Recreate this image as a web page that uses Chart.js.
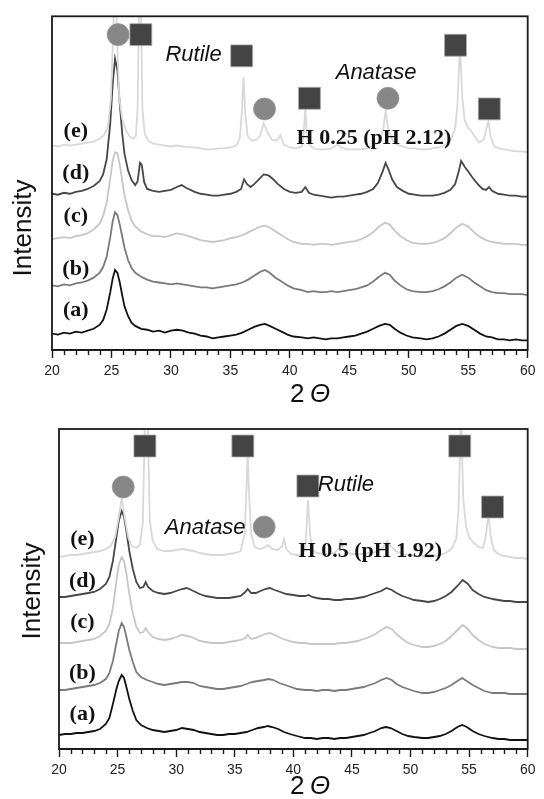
<!DOCTYPE html>
<html><head><meta charset="utf-8">
<script src="https://cdn.jsdelivr.net/npm/chart.js@4.4.0/dist/chart.umd.min.js"></script>
<style>
html,body{margin:0;padding:0;background:#fff;width:544px;height:799px;overflow:hidden;}
#c1{position:absolute;left:0;top:0;}
#c2{position:absolute;left:0;top:400px;}
</style></head><body>
<canvas id="c1" width="544" height="420"></canvas>
<canvas id="c2" width="544" height="399"></canvas>
<script>
// ---------- DATA (2θ in degrees, intensity in arbitrary stacked units) ----------
const xTickLabels = [20,25,30,35,40,45,50,55,60];
const minorTicks = [21,22,23,24,26,27,28,29,31,32,33,34,36,37,38,39,41,42,43,44,46,47,48,49,51,52,53,54,56,57,58,59];
const sampleLetters = ['(a)','(b)','(c)','(d)','(e)'];
const letterX = 22.0;

// Top panel: H 0.25 (pH 2.12)
const topA = [[20,17],[20.5,16],[21,18],[21.5,17],[22,19],[22.5,18],[23,20],[23.5,22],[24,26],[24.3,31],[24.6,42],[24.9,60],[25.1,74],[25.3,83],[25.5,80],[25.7,70],[25.9,57],[26.1,45],[26.4,35],[26.7,28],[27,25],[27.5,22],[28,21],[28.5,19],[29,20],[29.5,18],[30,20],[30.5,21],[31,20],[31.5,18],[32,17],[32.5,15],[33,14],[33.5,12],[34,13],[34.5,14],[35,15],[35.5,16],[36,18],[36.5,21],[37,24],[37.5,26],[37.9,27],[38.3,25],[38.8,22],[39.3,19],[39.8,16],[40.3,14],[41,13],[41.5,12],[42,13],[42.5,12],[43,11],[43.5,12],[44,12],[44.5,13],[45,14],[45.5,15],[46,17],[46.5,19],[47,22],[47.5,25],[48,27],[48.4,26],[48.8,22],[49.3,18],[49.8,15],[50.3,13],[51,12],[51.5,11],[52,12],[52.5,14],[53,17],[53.5,21],[54,25],[54.5,27],[55,25],[55.5,21],[56,17],[56.5,14],[57,13],[57.5,11],[58,11],[58.5,10],[59,11],[59.5,10],[60,10]];
const topB = [[20,67],[20.5,66],[21,68],[21.5,67],[22,69],[22.5,70],[23,72],[23.5,75],[24,80],[24.3,86],[24.6,97],[24.9,117],[25.1,133],[25.3,143],[25.5,140],[25.7,130],[25.9,118],[26.1,106],[26.4,93],[26.7,85],[27,80],[27.5,76],[28,73],[28.5,71],[29,70],[29.5,69],[30,68],[30.5,69],[31,68],[31.5,67],[32,66],[32.5,65],[33,65],[33.5,64],[34,65],[34.5,66],[35,67],[35.5,68],[36,70],[36.5,73],[37,77],[37.5,81],[37.9,83],[38.3,80],[38.8,75],[39.3,71],[39.8,67],[40.3,64],[41,62],[41.5,60],[42,61],[42.5,60],[43,60],[43.5,61],[44,60],[44.5,61],[45,62],[45.5,63],[46,65],[46.5,67],[47,71],[47.5,76],[48,80],[48.4,78],[48.8,72],[49.3,67],[49.8,63],[50.3,61],[51,60],[51.5,60],[52,61],[52.5,63],[53,66],[53.5,70],[54,75],[54.5,78],[55,75],[55.5,70],[56,66],[56.5,62],[57,60],[57.5,59],[58,59],[58.5,58],[59,58],[59.5,58],[60,57]];
const topC = [[20,115],[20.5,116],[21,117],[21.5,116],[22,118],[22.5,119],[23,121],[23.5,125],[24,131],[24.3,139],[24.6,153],[24.9,178],[25.1,196],[25.3,205],[25.5,204],[25.7,192],[25.9,176],[26.1,160],[26.4,145],[26.7,134],[27,128],[27.5,123],[28,120],[28.5,118],[29,118],[29.5,117],[30,119],[30.5,121],[31,120],[31.5,118],[32,116],[32.5,114],[33,113],[33.5,112],[34,113],[34.5,114],[35,116],[35.5,117],[36,119],[36.5,122],[37,125],[37.5,128],[37.9,129],[38.3,127],[38.8,123],[39.3,119],[39.8,115],[40.3,112],[41,110],[41.5,110],[42,109],[42.5,110],[43,110],[43.5,109],[44,110],[44.5,111],[45,112],[45.5,113],[46,115],[46.5,118],[47,122],[47.5,128],[48,132],[48.4,130],[48.8,124],[49.3,118],[49.8,114],[50.3,111],[51,110],[51.5,110],[52,111],[52.5,113],[53,116],[53.5,121],[54,127],[54.5,131],[55,128],[55.5,122],[56,117],[56.5,114],[57,112],[57.5,111],[58,110],[58.5,110],[59,110],[59.5,109],[60,109]];
const topD = [[20,162],[20.5,161],[21,163],[21.5,162],[22,164],[22.5,165],[23,167],[23.5,170],[24,175],[24.3,182],[24.6,198],[24.9,235],[25.1,275],[25.3,302],[25.5,290],[25.7,255],[25.9,225],[26.1,203],[26.4,186],[26.7,176],[27,171],[27.2,175],[27.4,194],[27.55,192],[27.75,174],[28,167],[28.5,165],[29,164],[29.5,165],[30,166],[30.5,169],[30.9,171],[31.3,168],[32,164],[32.5,162],[33,161],[33.5,160],[34,160],[34.5,161],[35,162],[35.5,164],[35.9,167],[36.15,177],[36.4,172],[36.7,169],[37,172],[37.4,177],[37.8,182],[38.2,181],[38.6,177],[39,172],[39.5,167],[40,164],[40.5,163],[41,164],[41.3,169],[41.6,163],[42,161],[42.5,160],[43,159],[43.5,158],[44,159],[44.5,159],[45,160],[45.5,161],[46,162],[46.5,164],[47,167],[47.4,173],[47.8,185],[48.05,194],[48.3,187],[48.6,177],[49,169],[49.5,165],[50,162],[50.5,161],[51,160],[51.5,160],[52,160],[52.5,161],[53,163],[53.5,166],[53.9,172],[54.2,185],[54.4,196],[54.7,190],[55,185],[55.4,178],[55.8,172],[56.2,167],[56.5,166],[56.75,169],[57,165],[57.5,162],[58,161],[58.5,160],[59,160],[59.5,159],[60,159]];
const topE = [[20,212],[20.5,211],[21,213],[21.5,212],[22,213],[22.5,214],[23,215],[23.5,216],[24,219],[24.4,223],[24.7,232],[24.95,260],[25.15,330],[25.3,420],[25.45,330],[25.65,262],[25.9,240],[26.2,228],[26.5,222],[26.8,219],[27.05,222],[27.2,250],[27.4,440],[27.6,250],[27.8,224],[28.1,217],[28.5,214],[29,213],[29.5,212],[30,211],[30.5,212],[31,211],[31.5,210],[32,210],[32.5,209],[33,208],[33.5,208],[34,209],[34.5,209],[35,210],[35.5,212],[35.8,220],[35.95,245],[36.1,283],[36.25,245],[36.45,222],[36.8,217],[37.2,218],[37.5,222],[37.8,235],[38.1,226],[38.5,218],[38.9,217],[39.2,223],[39.5,213],[40,210],[40.5,209],[41,211],[41.15,222],[41.3,250],[41.45,220],[41.7,212],[42,209],[42.5,208],[43,208],[43.5,209],[44,213],[44.3,210],[44.8,208],[45.5,208],[46,208],[46.5,209],[47,211],[47.5,216],[47.85,228],[48.05,248],[48.25,230],[48.6,218],[49,213],[49.5,211],[50,209],[50.5,209],[51,208],[51.5,208],[52,209],[52.5,210],[53,212],[53.5,217],[53.9,230],[54.1,255],[54.3,320],[54.5,262],[54.7,238],[55,230],[55.2,228],[55.5,222],[55.9,215],[56.3,218],[56.5,228],[56.7,237],[56.9,220],[57.2,211],[57.6,209],[58,208],[58.5,207],[59,206],[59.5,206],[60,205]];

// Bottom panel: H 0.5 (pH 1.92)
const botA = [[20,14],[20.5,15],[21,15],[21.5,16],[22,16],[22.5,17],[23,18],[23.5,20],[24,25],[24.3,31],[24.6,45],[24.9,60],[25.1,68],[25.35,74],[25.55,71],[25.75,62],[26,50],[26.3,38],[26.6,29],[27,24],[27.5,21],[28,19],[28.5,18],[29,17],[29.5,18],[30,19],[30.5,21],[31,20],[31.5,19],[32,17],[32.5,16],[33,15],[33.5,14],[34,14],[34.5,15],[35,15],[35.5,16],[36,17],[36.5,19],[37,21],[37.5,22],[37.8,23],[38.2,22],[38.7,20],[39.2,17],[39.7,15],[40.3,13],[41,11],[41.5,11],[42,10],[42.5,11],[43,11],[43.5,10],[44,11],[44.5,11],[45,12],[45.5,13],[46,14],[46.5,16],[47,18],[47.5,21],[47.9,22],[48.3,21],[48.8,18],[49.3,15],[49.8,13],[50.3,12],[51,11],[51.5,11],[52,12],[52.5,13],[53,15],[53.5,18],[54,22],[54.4,24],[54.8,22],[55.3,18],[55.8,15],[56.3,13],[57,11],[57.5,10],[58,10],[58.5,9],[59,9],[59.5,9],[60,9]];
const botB = [[20,59],[20.5,59],[21,60],[21.5,61],[22,62],[22.5,63],[23,64],[23.5,66],[24,70],[24.3,76],[24.6,88],[24.9,106],[25.1,118],[25.35,126],[25.55,122],[25.75,112],[26,99],[26.3,87],[26.6,77],[27,72],[27.5,69],[28,67],[28.5,65],[29,64],[29.5,65],[30,66],[30.5,67],[31,67],[31.5,66],[32,63],[32.5,62],[33,61],[33.5,60],[34,60],[34.5,61],[35,62],[35.5,63],[36,65],[36.5,67],[37,68],[37.5,69],[37.9,70],[38.3,69],[38.8,66],[39.3,64],[39.8,62],[40.3,60],[41,59],[41.5,59],[42,58],[42.5,59],[43,59],[43.5,58],[44,59],[44.5,59],[45,60],[45.5,61],[46,62],[46.5,64],[47,66],[47.5,69],[47.95,71],[48.4,69],[48.8,65],[49.3,62],[49.8,60],[50.3,58],[51,56],[51.5,56],[52,57],[52.5,59],[53,61],[53.5,64],[54,68],[54.4,71],[54.8,68],[55.3,64],[55.8,61],[56.3,58],[57,56],[57.5,56],[58,56],[58.5,55],[59,55],[59.5,55],[60,55]];
const botC = [[20,106],[20.5,106],[21,106],[21.5,107],[22,108],[22.5,109],[23,110],[23.5,113],[24,118],[24.3,125],[24.6,141],[24.9,168],[25.1,184],[25.35,192],[25.55,188],[25.75,176],[26,155],[26.3,136],[26.6,122],[26.9,116],[27.2,117],[27.4,121],[27.6,117],[28,112],[28.5,110],[29,109],[29.5,110],[30,112],[30.5,114],[31,113],[31.5,111],[32,108],[32.5,107],[33,106],[33.5,106],[34,106],[34.5,107],[35,108],[35.5,109],[35.9,111],[36.1,114],[36.4,110],[36.8,111],[37.2,113],[37.6,115],[38,116],[38.4,114],[38.9,111],[39.4,109],[40,107],[40.5,106],[41,106],[41.5,105],[42,105],[42.5,105],[43,105],[43.5,105],[44,106],[44.5,106],[45,107],[45.5,108],[46,110],[46.5,112],[47,115],[47.5,119],[47.95,122],[48.4,120],[48.8,115],[49.3,110],[49.8,106],[50.3,104],[51,102],[51.5,102],[52,103],[52.5,105],[53,108],[53.5,113],[54,119],[54.45,124],[54.9,120],[55.3,114],[55.8,109],[56.3,105],[57,102],[57.5,101],[58,101],[58.5,101],[59,100],[59.5,100],[60,100]];
const botD = [[20,152],[20.5,152],[21,153],[21.5,154],[22,155],[22.5,156],[23,157],[23.5,160],[24,165],[24.3,172],[24.6,188],[24.9,212],[25.1,228],[25.35,238],[25.55,232],[25.75,218],[26,198],[26.3,180],[26.6,167],[26.9,161],[27.2,162],[27.4,167],[27.6,162],[28,158],[28.5,156],[29,155],[29.5,156],[30,158],[30.5,160],[30.9,161],[31.3,159],[32,155],[32.5,153],[33,152],[33.5,151],[34,151],[34.5,151],[35,152],[35.5,153],[35.9,157],[36.1,160],[36.4,156],[36.8,156],[37.2,158],[37.6,160],[38,161],[38.4,159],[38.9,157],[39.4,155],[40,154],[40.5,153],[41,153],[41.3,154],[41.6,152],[42,151],[42.5,150],[43,150],[43.5,149],[44,149],[44.5,150],[45,150],[45.5,151],[46,152],[46.5,154],[47,156],[47.5,158],[47.95,161],[48.4,159],[48.8,156],[49.3,153],[49.8,151],[50.3,149],[51,148],[51.5,147],[52,148],[52.5,150],[53,153],[53.5,157],[54,163],[54.45,169],[54.9,165],[55.3,159],[55.8,155],[56.3,152],[56.7,151],[57,150],[57.5,149],[58,148],[58.5,148],[59,147],[59.5,147],[60,147]];
const botE = [[20,192],[20.5,193],[21,194],[21.5,194],[22,195],[22.5,196],[23,197],[23.5,198],[24,200],[24.4,203],[24.8,212],[25.1,232],[25.35,251],[25.6,232],[25.9,212],[26.2,203],[26.6,201],[26.9,204],[27.15,225],[27.35,340],[27.55,340],[27.75,228],[28,208],[28.4,200],[29,198],[29.5,198],[30,199],[30.5,200],[31,199],[31.5,198],[32,196],[32.5,195],[33,194],[33.5,194],[34,194],[34.5,195],[35,196],[35.5,198],[35.85,215],[36,260],[36.1,300],[36.2,260],[36.4,215],[36.7,202],[37.1,200],[37.5,201],[37.8,204],[38.2,200],[38.7,199],[39.05,203],[39.2,210],[39.4,200],[39.8,195],[40.3,194],[40.8,194],[41.05,205],[41.25,249],[41.45,212],[41.7,198],[42,196],[42.5,195],[43,195],[43.5,196],[43.85,200],[44.05,209],[44.25,199],[44.6,196],[45,195],[45.5,195],[46,195],[46.5,196],[47,197],[47.5,200],[47.8,204],[48,208],[48.3,203],[48.7,198],[49.2,196],[49.8,194],[50.5,193],[51,193],[51.5,192],[52,193],[52.5,194],[53,196],[53.5,200],[53.9,210],[54.1,240],[54.3,340],[54.5,250],[54.75,222],[55,212],[55.4,206],[55.8,202],[56.2,201],[56.45,215],[56.65,235],[56.85,212],[57.1,199],[57.5,195],[58,193],[58.5,192],[59,191],[59.5,191],[60,190]];

// Phase markers (2θ, stacked intensity)
const topAnatase = [[25.56,327],[37.87,250],[48.25,261]];
const topRutile  = [[27.47,327],[35.95,305],[41.65,261],[53.93,316],[56.77,250]];
const botAnatase = [[25.48,262],[37.51,222]];
const botRutile  = [[27.33,303],[35.69,303],[54.2,303],[41.24,263],[57.0,242]];

// Text annotations (2θ, stacked intensity)
const topLetterY = [41,84,139,183,227];
const botLetterY = [35,76,127,168,210];
const topTexts = [['Rutile',31.9,306],['Anatase',47.25,287]];
const botTexts = [['Rutile',44.49,264],['Anatase',32.48,221]];
const topCond = ['H 0.25 (pH 2.12)',47.07,219];
const botCond = ['H 0.5 (pH 1.92)',46.57,198];

// ---------- STYLE ----------
const traceColors = ['#111111','#7a7a7a','#c6c6c6','#474747','#d8d8d8'];
const toXY = arr => arr.map(([x,y]) => ({x, y}));

function makePanel(canvasId, traces, anat, rut, letterY, texts, cond, opt) {
  const datasets = [];
  datasets.push({data: toXY(anat), showLine:false, pointStyle:'circle', pointRadius:11, pointHoverRadius:11,
    backgroundColor:'#878787', borderColor:'#9a9a9a', borderWidth:0.8, order:0});
  datasets.push({data: toXY(rut), showLine:false, pointStyle:'rect', pointRadius:15.5, pointHoverRadius:15.5,
    backgroundColor:'#444444', borderColor:'#a8a8a8', borderWidth:0.8, order:0});
  traces.forEach((t,i) => datasets.push({data: toXY(t), showLine:true, pointRadius:0, borderWidth:1.8,
    borderColor: traceColors[i], backgroundColor: traceColors[i], tension:0, order: 1 + (4 - i)}));

  const plugin = {
    id: 'deco_' + canvasId,
    afterDatasetsDraw(chart) {
      const {ctx, chartArea: a, scales: {x, y}} = chart;
      ctx.save();
      ctx.fillStyle = '#111'; ctx.textAlign = 'center'; ctx.textBaseline = 'middle';
      ctx.font = 'bold 22px "Liberation Serif"';
      sampleLetters.forEach((t,i) => ctx.fillText(t, x.getPixelForValue(letterX), y.getPixelForValue(letterY[i])));
      ctx.fillText(cond[0], x.getPixelForValue(cond[1]), y.getPixelForValue(cond[2]));
      ctx.font = 'italic 22px "Liberation Sans"';
      texts.forEach(([t,tx,ty]) => ctx.fillText(t, x.getPixelForValue(tx), y.getPixelForValue(ty)));
      ctx.restore();
    },
    afterDraw(chart) {
      const {ctx, chartArea: a, scales: {x}} = chart;
      ctx.save();
      ctx.strokeStyle = '#1a1a1a'; ctx.lineWidth = 1.8;
      ctx.strokeRect(a.left, a.top, a.right - a.left, a.bottom - a.top);
      ctx.lineWidth = 1.4;
      minorTicks.forEach(v => {
        const px = Math.round(x.getPixelForValue(v)) + 0.5;
        ctx.beginPath(); ctx.moveTo(px, a.bottom); ctx.lineTo(px, a.bottom + 5); ctx.stroke();
      });
      ctx.fillStyle = '#111';
      ctx.font = '26px "Liberation Sans"';
      ctx.textAlign = 'center'; ctx.textBaseline = 'middle';
      ctx.translate(opt.yTitle[0], opt.yTitle[1]); ctx.rotate(-Math.PI/2);
      ctx.fillText('Intensity', 0, 0);
      ctx.setTransform(1,0,0,1,0,0);
      ctx.textAlign = 'left';
      ctx.font = '26px "Liberation Sans"';
      ctx.fillText('2', opt.xTitle[0], opt.xTitle[1]);
      ctx.font = 'italic 26px "Liberation Sans"';
      ctx.fillText('\u0398', opt.xTitle[0] + 20, opt.xTitle[1]);
      ctx.restore();
    }
  };

  return new Chart(document.getElementById(canvasId), {
    type: 'scatter',
    data: {datasets},
    options: {
      responsive: false, animation: false, devicePixelRatio: 1,
      layout: {padding: opt.padding},
      plugins: {legend: {display:false}, tooltip: {enabled:false}, title:{display:false}},
      events: [],
      scales: {
        x: {type:'linear', min:20, max:60,
          afterFit(scale){ scale.height = opt.xHeight; },
          afterBuildTicks(scale){ scale.ticks = xTickLabels.map(v => ({value:v})); },
          ticks: {color:'#222', font:{family:'"Liberation Sans"', size:14}, padding:5, maxRotation:0,
            callback: v => String(v)},
          grid: {display:true, drawOnChartArea:false, drawTicks:true, tickLength:8, color:'#1a1a1a', tickWidth:1.4},
          border: {display:true, color:'#1a1a1a', width:1.8}
        },
        y: {type:'linear', min:0, max:opt.yMax, display:false}
      }
    },
    plugins: [plugin]
  });
}

makePanel('c1', [topA, topB, topC, topD, topE], topAnatase, topRutile, topLetterY, topTexts, topCond,
  {padding:{left:52, right:12, top:4, bottom:0}, xHeight:70, yMax:346, yTitle:[24,228], xTitle:[290,395]});
makePanel('c2', [botA, botB, botC, botD, botE], botAnatase, botRutile, botLetterY, botTexts, botCond,
  {padding:{left:59, right:14, top:29, bottom:0}, xHeight:50, yMax:320, yTitle:[33,191], xTitle:[290,387]});
</script>
</body></html>
